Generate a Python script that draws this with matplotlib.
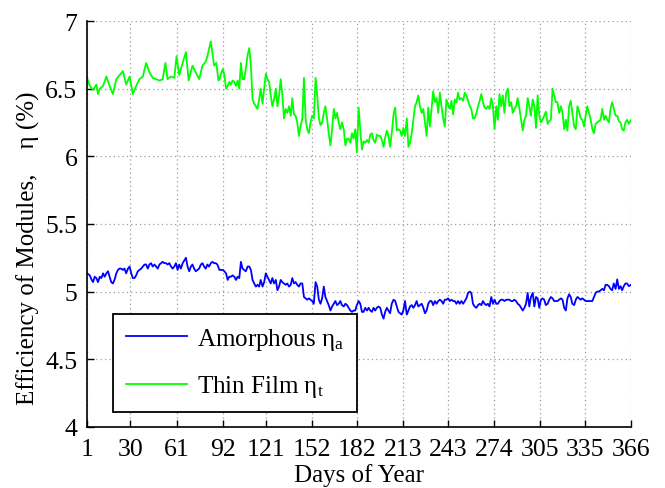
import matplotlib
matplotlib.use("Agg")
import matplotlib.pyplot as plt
import numpy as np

plt.rcParams["font.family"] = ["Liberation Serif", "DejaVu Serif"]
plt.rcParams["mathtext.fontset"] = "custom"
plt.rcParams["mathtext.rm"] = "Liberation Serif"
plt.rcParams["mathtext.it"] = "Liberation Serif:italic"

# ---- daily module efficiency (%) ----
# January - March
days_q1 = [1.0, 2.8, 3.9, 5.0, 6.1, 7.2, 8.3, 9.5, 10.6, 11.7, 12.8, 13.9, 15.0, 16.1,
           17.2, 18.3, 19.5, 20.6, 21.7, 22.8, 23.9, 25.0, 26.1, 27.2, 28.4, 29.5, 30.6,
           31.7, 32.8, 33.9, 35.0, 36.1, 37.3, 38.4, 39.5, 40.6, 41.7, 42.8, 43.9, 45.0,
           46.2, 47.3, 48.4, 49.5, 50.6, 51.7, 52.8, 53.9, 55.0, 56.2, 57.3, 58.4, 59.5,
           60.6, 61.7, 62.8, 63.9, 65.1, 66.2, 67.3, 68.4, 69.5, 70.6, 71.7, 72.8, 73.9,
           75.1, 76.2, 77.3, 78.4, 79.5, 80.6, 81.7, 82.8, 84.0, 85.1, 86.2, 87.3, 88.4]
amorph_q1 = [5.135, 5.12, 5.09, 5.07, 5.11, 5.10, 5.07, 5.11, 5.10, 5.135, 5.11, 5.135,
             5.15, 5.11, 5.07, 5.06, 5.09, 5.135, 5.16, 5.17, 5.17, 5.16, 5.17, 5.135,
             5.17, 5.185, 5.135, 5.10, 5.10, 5.12, 5.15, 5.16, 5.17, 5.185, 5.20, 5.20,
             5.17, 5.20, 5.21, 5.185, 5.20, 5.185, 5.17, 5.20, 5.21, 5.22, 5.21, 5.21,
             5.20, 5.21, 5.185, 5.17, 5.185, 5.21, 5.16, 5.20, 5.17, 5.21, 5.23, 5.25,
             5.185, 5.15, 5.185, 5.20, 5.17, 5.15, 5.16, 5.17, 5.20, 5.21, 5.185, 5.17,
             5.20, 5.185, 5.21, 5.22, 5.21, 5.21, 5.20]
days_thin_q1 = [1.0, 2.8, 5.0, 7.2, 8.3, 9.5, 11.7, 13.9, 16.1, 18.3, 20.6, 22.8, 25.0,
                27.2, 29.5, 31.7, 33.9, 36.1, 38.4, 40.6, 42.8, 45.0, 47.3, 49.5, 51.7,
                53.5, 55.0, 57.3, 59.5, 61.0, 62.8, 65.1, 67.3, 69.1, 71.7, 73.9, 76.2,
                78.4, 80.6, 81.7, 84.0, 86.2, 87.7, 89.1]
thin_q1 = [6.58, 6.52, 6.49, 6.53, 6.46, 6.50, 6.52, 6.59, 6.52, 6.46, 6.57, 6.60, 6.63,
           6.53, 6.59, 6.46, 6.52, 6.57, 6.59, 6.69, 6.62, 6.58, 6.57, 6.56, 6.57, 6.69,
           6.57, 6.59, 6.58, 6.74, 6.60, 6.69, 6.77, 6.56, 6.67, 6.62, 6.57, 6.67, 6.70,
           6.74, 6.85, 6.67, 6.69, 6.56]

# April - June
days_q2 = [89.8, 90.9, 92.0, 93.1, 94.2, 95.3, 96.4, 97.5, 98.6, 99.8, 100.9, 102.0,
           103.1, 104.2, 105.3, 106.4, 107.5, 108.7, 109.8, 110.9, 112.0, 113.1, 114.2,
           115.3, 116.4, 117.5, 118.7, 119.8, 120.9, 122.0, 123.1, 124.2, 125.3, 126.4,
           127.6, 128.7, 129.8, 130.9, 132.0, 133.1, 134.2, 135.3, 136.5, 137.6, 138.7,
           139.8, 140.9, 142.0, 143.1, 144.2, 145.4, 146.5, 147.6, 148.7, 149.8, 150.9,
           152.0, 153.1, 154.3, 155.4, 156.5, 157.6, 158.7, 159.8, 160.9, 162.0, 163.1,
           164.3, 165.4, 166.5, 167.6, 168.7, 169.8, 170.9, 172.0, 173.2, 174.3, 175.4,
           176.5, 177.6, 178.7, 179.8, 180.9, 182.0]
amorph_q2 = [5.16, 5.16, 5.16, 5.15, 5.135, 5.086, 5.11, 5.11, 5.12, 5.11, 5.086, 5.11,
             5.10, 5.22, 5.17, 5.16, 5.15, 5.185, 5.185, 5.16, 5.086, 5.06, 5.037, 5.05,
             5.037, 5.086, 5.037, 5.07, 5.135, 5.11, 5.086, 5.06, 5.10, 5.06, 5.086, 5.01,
             5.037, 5.086, 5.07, 5.06, 5.05, 5.06, 5.037, 5.05, 5.10, 5.06, 5.07, 5.05,
             5.037, 5.06, 5.06, 4.96, 4.95, 4.94, 4.95, 4.94, 4.93, 4.91, 5.07, 5.037,
             4.94, 4.91, 4.95, 5.037, 4.96, 4.93, 4.90, 4.86, 4.89, 4.91, 4.93, 4.90,
             4.91, 4.93, 4.90, 4.89, 4.91, 4.90, 4.88, 4.86, 4.85, 4.86, 4.86, 4.90]
thin_q2 = [6.57, 6.61, 6.645, 6.60, 6.50, 6.52, 6.55, 6.53, 6.56, 6.55, 6.52, 6.56, 6.50,
           6.69, 6.57, 6.57, 6.65, 6.75, 6.80, 6.67, 6.42, 6.39, 6.37, 6.35, 6.42, 6.50,
           6.39, 6.50, 6.61, 6.57, 6.55, 6.45, 6.37, 6.42, 6.50, 6.37, 6.45, 6.57, 6.45,
           6.28, 6.35, 6.32, 6.37, 6.30, 6.43, 6.31, 6.30, 6.25, 6.15, 6.22, 6.28, 6.58,
           6.28, 6.20, 6.17, 6.25, 6.30, 6.28, 6.58, 6.45, 6.28, 6.23, 6.25, 6.32, 6.37,
           6.28, 6.17, 6.08, 6.20, 6.35, 6.28, 6.32, 6.25, 6.20, 6.25, 6.20, 6.08, 6.13,
           6.13, 6.10, 6.17, 6.13, 6.20, 6.03]

# July - September
days_q3 = [183.2, 184.3, 185.4, 186.5, 187.6, 188.8, 189.9, 191.0, 192.1, 193.2, 194.3,
           195.4, 196.5, 197.7, 198.8, 199.9, 201.0, 202.1, 203.2, 204.3, 205.4, 206.6,
           207.7, 208.8, 209.9, 211.0, 212.1, 213.2, 214.3, 215.5, 216.6, 217.7, 218.8,
           219.9, 221.0, 222.1, 223.2, 224.3, 225.5, 226.6, 227.7, 228.8, 229.9, 231.0,
           232.1, 233.2, 234.4, 235.5, 236.6, 237.7, 238.8, 239.9, 241.0, 242.1, 243.2,
           244.4, 245.5, 246.6, 247.7, 248.8, 249.9, 251.0, 252.1, 253.3, 254.4, 255.5,
           256.6, 257.7, 258.8, 259.9, 261.0, 262.2, 263.3, 264.4, 265.5, 266.6, 267.7,
           268.8, 269.9, 271.0, 272.2, 273.3, 274.4, 275.5]
amorph_q3 = [4.93, 4.91, 4.85, 4.85, 4.88, 4.86, 4.88, 4.86, 4.85, 4.88, 4.86, 4.88, 4.89,
             4.88, 4.83, 4.80, 4.85, 4.88, 4.86, 4.84, 4.91, 4.94, 4.93, 4.89, 4.85, 4.84,
             4.83, 4.86, 4.93, 4.83, 4.86, 4.89, 4.90, 4.88, 4.90, 4.93, 4.89, 4.90, 4.91,
             4.88, 4.84, 4.86, 4.91, 4.93, 4.93, 4.90, 4.93, 4.91, 4.93, 4.94, 4.93, 4.91,
             4.94, 4.94, 4.95, 4.93, 4.94, 4.93, 4.93, 4.91, 4.93, 4.91, 4.93, 4.91, 4.93,
             4.95, 4.99, 5.00, 4.99, 4.91, 4.89, 4.88, 4.90, 4.91, 4.90, 4.93, 4.91, 4.90,
             4.91, 4.89, 4.96, 4.91, 4.94, 4.91]
thin_q3 = [6.36, 6.19, 6.05, 6.11, 6.10, 6.12, 6.10, 6.16, 6.17, 6.12, 6.10, 6.16, 6.15,
           6.15, 6.12, 6.07, 6.14, 6.19, 6.15, 6.07, 6.17, 6.31, 6.36, 6.19, 6.20, 6.19,
           6.15, 6.21, 6.15, 6.28, 6.07, 6.10, 6.17, 6.27, 6.37, 6.40, 6.45, 6.37, 6.32,
           6.35, 6.25, 6.15, 6.36, 6.22, 6.35, 6.48, 6.40, 6.43, 6.32, 6.47, 6.37, 6.28,
           6.22, 6.42, 6.38, 6.35, 6.41, 6.31, 6.42, 6.40, 6.47, 6.42, 6.43, 6.41, 6.47,
           6.45, 6.41, 6.37, 6.35, 6.28, 6.28, 6.32, 6.37, 6.41, 6.46, 6.40, 6.36, 6.35,
           6.37, 6.35, 6.43, 6.37, 6.20, 6.37]

# October - December
days_q4 = [276.6, 277.7, 278.8, 279.9, 281.0, 282.2, 283.3, 284.4, 285.5, 286.6, 287.7,
           288.8, 289.9, 291.1, 292.2, 293.3, 294.4, 295.5, 296.6, 297.7, 298.8, 300.0,
           301.1, 302.2, 303.3, 304.4, 305.5, 306.6, 307.7, 308.8, 310.0, 311.1, 312.2,
           313.3, 314.4, 315.5, 316.6, 317.7, 318.9, 320.0, 321.1, 322.2, 323.3, 324.4,
           325.5, 326.6, 327.8, 328.9, 330.0, 331.1, 332.2, 333.3, 334.4, 335.5, 336.6,
           337.8, 338.9, 340.0, 341.1, 342.2, 343.3, 344.4, 345.5, 346.7, 347.8, 348.9,
           350.0, 351.1, 352.2, 353.3, 354.4, 355.6, 356.7, 357.8, 358.9, 360.0, 361.1,
           362.2, 363.3, 364.5, 366.0]
amorph_q4 = [4.91, 4.93, 4.94, 4.94, 4.93, 4.94, 4.94, 4.94, 4.93, 4.93, 4.94, 4.93, 4.91,
             4.90, 4.88, 4.86, 4.88, 4.91, 4.99, 4.89, 4.96, 4.99, 4.89, 4.96, 4.95, 4.88,
             4.94, 4.95, 4.94, 4.90, 4.91, 4.94, 4.96, 4.95, 4.93, 4.93, 4.93, 4.94, 4.95,
             4.94, 4.88, 4.86, 4.95, 4.98, 4.96, 4.91, 4.90, 4.94, 4.96, 4.95, 4.94, 4.95,
             4.94, 4.93, 4.93, 4.93, 4.93, 4.93, 4.96, 4.99, 5.00, 5.00, 5.01, 5.02, 5.01,
             5.05, 5.05, 5.04, 5.02, 5.01, 5.06, 5.02, 5.09, 5.02, 5.04, 5.01, 5.04, 5.06,
             5.06, 5.04, 5.05]
thin_q4 = [6.27, 6.46, 6.37, 6.45, 6.32, 6.47, 6.50, 6.37, 6.40, 6.32, 6.35, 6.37, 6.43,
           6.35, 6.27, 6.19, 6.27, 6.30, 6.43, 6.37, 6.30, 6.42, 6.37, 6.21, 6.45, 6.30,
           6.25, 6.27, 6.30, 6.33, 6.24, 6.26, 6.27, 6.50, 6.45, 6.40, 6.40, 6.32, 6.37,
           6.32, 6.20, 6.27, 6.19, 6.37, 6.41, 6.32, 6.22, 6.20, 6.37, 6.33, 6.28, 6.27,
           6.22, 6.30, 6.37, 6.32, 6.27, 6.20, 6.17, 6.24, 6.25, 6.26, 6.27, 6.35, 6.27,
           6.30, 6.27, 6.25, 6.35, 6.40, 6.35, 6.30, 6.30, 6.26, 6.25, 6.20, 6.19, 6.25,
           6.27, 6.24, 6.27]

day_ticks = [1, 30, 61, 92, 121, 152, 182, 213, 243, 274, 305, 335, 366]
eff_ticks = [4, 4.5, 5, 5.5, 6, 6.5, 7]
eff_labels = ["4", "4.5", "5", "5.5", "6", "6.5", "7"]

amorph_days = days_q1 + days_q2 + days_q3 + days_q4
amorph = amorph_q1 + amorph_q2 + amorph_q3 + amorph_q4
thin_days = days_thin_q1 + days_q2 + days_q3 + days_q4
thin = thin_q1 + thin_q2 + thin_q3 + thin_q4

fig = plt.figure(figsize=(6.65, 4.89), dpi=100)
ax = fig.add_axes([0.131, 0.125, 0.818, 0.830])

ax.plot(amorph_days, amorph, color="#0000ff", lw=1.3,
        label=r"Amorphous $\mathregular{\eta_{a}}$")
ax.plot(thin_days, thin, color="#00ff00", lw=1.3,
        label=r"Thin Film $\mathregular{\eta_{t}}$")

ax.set_xlim(1, 366)
ax.set_ylim(4, 7)
ax.set_xticks(day_ticks)
ax.set_yticks(eff_ticks)
ax.set_yticklabels(eff_labels)
ax.tick_params(direction="in", length=5, width=1, labelsize=18.5)
ax.tick_params(axis="x", pad=8)
ax.tick_params(axis="y", pad=7)
ax.grid(True, linestyle=(0, (1, 2.5)), color="#9a9a9a", linewidth=0.9)
for side in ("top", "right"):
    ax.spines[side].set_visible(False)
for side in ("left", "bottom"):
    ax.spines[side].set_linewidth(1.2)

ax.set_xlabel("Days of Year", fontsize=18, labelpad=2)
ax.set_ylabel("Efficiency of Modules,    \u03b7 (%)", fontsize=18)
ax.yaxis.set_label_coords(-0.086, 0.442)

leg = ax.legend(loc="lower left", bbox_to_anchor=(0.048, 0.037), borderaxespad=0,
                fontsize=18, handlelength=2.45, handletextpad=0.4, labelspacing=0.85,
                borderpad=0.5, fancybox=False, framealpha=1, edgecolor="black")
leg.get_frame().set_linewidth(1.3)

fig.savefig("out.png", dpi=100)
